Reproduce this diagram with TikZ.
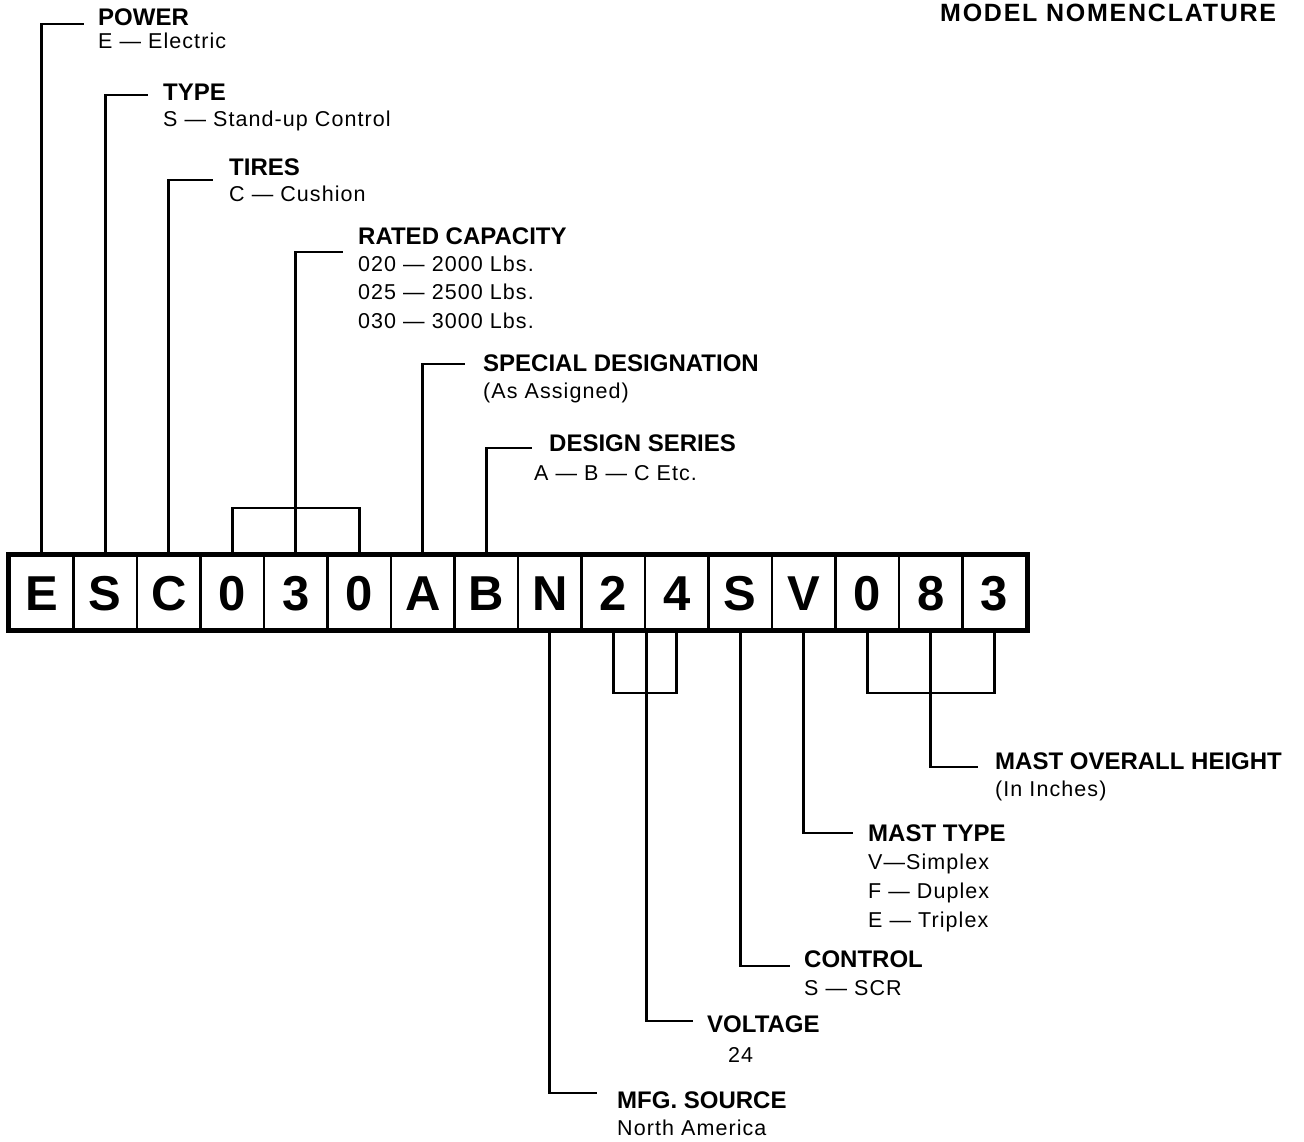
\documentclass[tikz,border=0pt]{standalone}
\usepackage{fontspec}
\setmainfont{Liberation Sans}
\begin{document}
\begin{tikzpicture}[x=1pt,y=-1pt,
  cell/.style={draw, line width=2.5pt, minimum width=63.5pt, minimum height=73pt, inner sep=0pt,
    font=\fontsize{49}{50}\selectfont\bfseries, text height=35pt, text depth=0pt},
  head/.style={anchor=base west, inner sep=0pt, font=\fontsize{24}{28}\selectfont\bfseries},
  sub/.style={anchor=base west, inner sep=0pt, font=\fontsize{21.5}{24}\selectfont\addfontfeatures{LetterSpace=5}},
  lead/.style={line width=2.6pt},
  frame/.style={line width=5pt}]
\useasboundingbox (0,0) rectangle (1304,1141);

% title
\node[anchor=base west, inner sep=0pt, font=\fontsize{25}{28}\selectfont\bfseries\addfontfeatures{LetterSpace=7}] (title) at (940,21) {MODEL NOMENCLATURE};

% code cells
\foreach \l [count=\i] in {E,S,C,0,3,0,A,B,N,2,4,S,V,0,8,3}
  \node[cell] (c\i) at ({10+(\i-0.5)*63.5},592.5) {\l};
\draw[frame] (c1.north west) rectangle (c16.south east);

% POWER
\node[head] (power) at (98,25) {POWER};
\node[sub] (powerA) at (98,48) {E — Electric};
\coordinate (powerEnd) at (84,24);
\draw[lead] (c1.north) |- (powerEnd);

% TYPE
\node[head] (type) at (163,100) {TYPE};
\node[sub] (typeA) at (163,126) {S — Stand-up Control};
\coordinate (typeEnd) at (148,95);
\draw[lead] (c2.north) |- (typeEnd);

% TIRES
\node[head] (tires) at (229,175) {TIRES};
\node[sub] (tiresA) at (229,201) {C — Cushion};
\coordinate (tiresEnd) at (213,180);
\draw[lead] (c3.north) |- (tiresEnd);

% RATED CAPACITY
\node[head] (rated) at (358,244) {RATED CAPACITY};
\node[sub] (ratedA) at (358,271) {020 — 2000 Lbs.};
\node[sub] (ratedB) at (358,299) {025 — 2500 Lbs.};
\node[sub] (ratedC) at (358,328) {030 — 3000 Lbs.};
\coordinate (ratedBr) at (295.75,508);
\coordinate (ratedEnd) at (343,252);
\draw[lead] (c4.north) |- (ratedBr) -| (c6.north);
\draw[lead] (c5.north) |- (ratedEnd);

% SPECIAL DESIGNATION
\node[head] (special) at (483,371) {SPECIAL DESIGNATION};
\node[sub] (specialA) at (483,398) {(As Assigned)};
\coordinate (specialEnd) at (465,364);
\draw[lead] (c7.north) |- (specialEnd);

% DESIGN SERIES
\node[head] (design) at (549,451) {DESIGN SERIES};
\node[sub] (designA) at (534,480) {A — B — C Etc.};
\coordinate (designEnd) at (532,448);
\draw[lead] (c8.north) |- (designEnd);

% MFG. SOURCE
\node[head] (mfg) at (617,1108) {MFG. SOURCE};
\node[sub] (mfgA) at (617,1135) {North America};
\coordinate (mfgEnd) at (597,1093);
\draw[lead] (c9.south) |- (mfgEnd);

% VOLTAGE
\node[head] (volt) at (707,1032) {VOLTAGE};
\node[sub] (voltA) at (728,1062) {24};
\coordinate (voltBr) at (645,693);
\coordinate (voltEnd) at (693,1021);
\draw[lead] (c10.south) |- (voltBr) -| (c11.south);
\draw[lead] (c10.south east) |- (voltEnd);

% CONTROL
\node[head] (control) at (804,967) {CONTROL};
\node[sub] (controlA) at (804,995) {S — SCR};
\coordinate (controlEnd) at (790,966);
\draw[lead] (c12.south) |- (controlEnd);

% MAST TYPE
\node[head] (mast) at (868,841) {MAST TYPE};
\node[sub] (mastA) at (868,869) {V—Simplex};
\node[sub] (mastB) at (868,898) {F — Duplex};
\node[sub] (mastC) at (868,927) {E — Triplex};
\coordinate (mastEnd) at (853,833);
\draw[lead] (c13.south) |- (mastEnd);

% MAST OVERALL HEIGHT
\node[head] (height) at (995,769) {MAST OVERALL HEIGHT};
\node[sub] (heightA) at (995,796) {(In Inches)};
\coordinate (heightBr) at (930.75,693);
\coordinate (heightEnd) at (978,767);
\draw[lead] (c14.south) |- (heightBr) -| (c16.south);
\draw[lead] (c15.south) |- (heightEnd);
\end{tikzpicture}
\end{document}
